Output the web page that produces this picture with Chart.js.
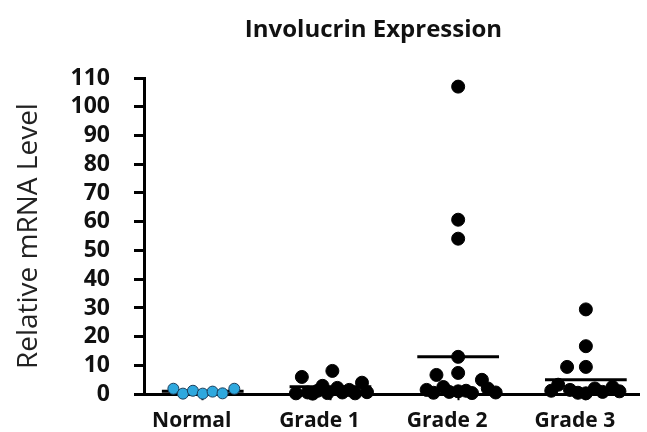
<!DOCTYPE html>
<html lang="en">
<head>
<meta charset="UTF-8" />
<title>Involucrin Expression</title>
<script src="https://cdn.jsdelivr.net/npm/chart.js"></script>
<style>
  html, body { margin: 0; padding: 0; background: #fff; }
  .wrap { position: relative; width: 647px; height: 432px; }
  .chart-title {
    position: absolute; top: 12px; left: 100px; right: 0;
    text-align: center; font: bold 24px/32px "Open Sans", sans-serif; color: #111;
  }
</style>
</head>
<body>
<div class="wrap">
  <div class="chart-title">Involucrin Expression</div>
  <canvas id="dotChart"></canvas>
</div>
<script>
  // groups on the x axis
  const groups = ['Normal', 'Grade 1', 'Grade 2', 'Grade 3'];

  // relative mRNA values per group, with the horizontal spread of each dot (in group units)
  const normalValues = [1.9, 0.2, 1.2, 0.2, 0.9, 0.3, 1.9];
  const normalJitter = [-0.23, -0.155, -0.077, 0, 0.077, 0.155, 0.247];

  const grade1Values = [0.3, 6.0, 0.6, 0.2, 1.2, 2.9, 0.4, 8.1, 2.2, 0.6, 1.5, 0.3, 4.0, 0.7];
  const grade1Jitter = [-0.27, -0.224, -0.178, -0.139, -0.1, -0.062, -0.023, 0.015, 0.054, 0.093, 0.147, 0.193, 0.247, 0.286];

  const grade2Values = [107, 60.7, 54.1, 13.0, 6.7, 7.4, 5.0, 1.5, 0.5, 2.5, 0.8, 1.0, 1.2, 0.4, 2.0, 0.6];
  const grade2Jitter = [0, 0, 0, 0, -0.17, 0, 0.186, -0.247, -0.193, -0.116, -0.07, 0, 0.062, 0.108, 0.232, 0.294];

  const grade3Values = [29.5, 16.7, 9.5, 9.5, 3.3, 1.5, 0.5, 0.3, 2.0, 0.8, 2.5, 1.0, 1.2];
  const grade3Jitter = [0, 0, -0.147, 0, -0.217, -0.124, -0.062, 0, 0.07, 0.131, 0.209, 0.263, -0.271];

  // mean bar per group
  const groupMeans = [1.0, 2.6, 13.0, 5.0];

  const yTicks = [0, 10, 20, 30, 40, 50, 60, 70, 80, 90, 100, 110];

  Chart.defaults.font.family = '"Open Sans", sans-serif';
  Chart.defaults.color = '#111';

  const dotSets = [
    { values: normalValues, jitter: normalJitter, fill: '#2ea8de', border: '#1b3f5c', radius: 5.5 },
    { values: grade1Values, jitter: grade1Jitter, fill: '#000', border: '#000', radius: 6.5 },
    { values: grade2Values, jitter: grade2Jitter, fill: '#000', border: '#000', radius: 6.5 },
    { values: grade3Values, jitter: grade3Jitter, fill: '#000', border: '#000', radius: 6.5 }
  ];

  const datasets = [];
  groupMeans.forEach((m, g) => {
    datasets.push({
      type: 'scatter',
      data: [{ x: g + 1 - 0.32, y: m }, { x: g + 1 + 0.32, y: m }],
      showLine: true,
      borderColor: '#000',
      borderWidth: 3,
      pointRadius: 0,
      clip: false,
      order: 2
    });
  });
  dotSets.forEach((s, g) => {
    datasets.push({
      type: 'scatter',
      data: s.values.map((v, i) => ({ x: g + 1 + s.jitter[i], y: v })),
      backgroundColor: s.fill,
      borderColor: s.border,
      borderWidth: 1,
      pointRadius: s.radius,
      clip: false,
      order: g === 0 ? 1 : 3
    });
  });

  new Chart(document.getElementById('dotChart'), {
    type: 'scatter',
    data: { datasets },
    options: {
      responsive: true,
      maintainAspectRatio: false,
      animation: false,
      layout: { padding: { top: 78, left: 8, right: 2, bottom: 0 } },
      plugins: { legend: { display: false }, tooltip: { enabled: false } },
      scales: {
        x: {
          type: 'linear',
          min: 0.54,
          max: 4.42,
          afterBuildTicks: axis => { axis.ticks = groups.map((_, i) => ({ value: i + 1 })); },
          afterFit: axis => { axis.height = 37; },
          border: { display: true, color: '#000', width: 3 },
          grid: { drawOnChartArea: false, drawTicks: true, tickLength: 6, tickWidth: 2, tickColor: '#000' },
          ticks: {
            callback: v => groups[v - 1],
            autoSkip: false,
            maxRotation: 0,
            labelOffset: -11,
            padding: 10,
            color: '#111',
            font: { size: 21, weight: 'bold', lineHeight: 1 }
          }
        },
        y: {
          min: 0,
          max: 110,
          afterBuildTicks: axis => { axis.ticks = yTicks.map(v => ({ value: v })); },
          afterFit: axis => { axis.width = 136; },
          border: { display: true, color: '#000', width: 3 },
          grid: { drawOnChartArea: false, drawTicks: true, tickLength: 10, tickWidth: 3, tickColor: '#000' },
          ticks: {
            padding: 24,
            color: '#111',
            font: { size: 23, weight: 'bold' }
          },
          title: {
            display: true,
            text: 'Relative mRNA Level',
            color: '#222',
            font: { size: 28, weight: 'normal' }
          }
        }
      }
    }
  });
</script>
</body>
</html>
